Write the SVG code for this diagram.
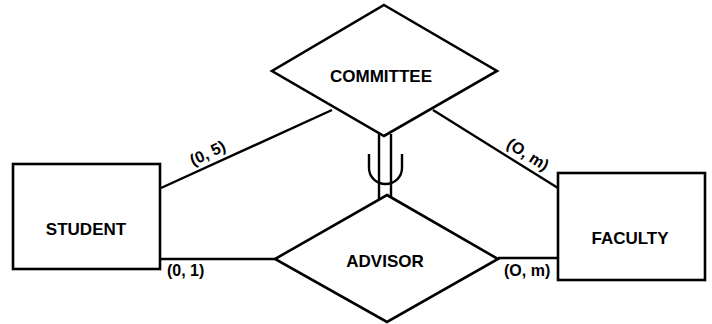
<svg xmlns="http://www.w3.org/2000/svg" width="712" height="324" viewBox="0 0 712 324">
  <style>
    .shape { fill: #fff; stroke: #000; stroke-width: 2.6; stroke-linejoin: miter; }
    .edge { fill: none; stroke: #000; stroke-width: 2.4; }
    .name { font-family: "Liberation Sans", Arial, sans-serif; font-weight: bold; font-size: 17px; text-anchor: middle; fill: #000; }
    .card { font-family: "Liberation Sans", Arial, sans-serif; font-weight: bold; font-size: 16px; fill: #000; }
  </style>
  <rect width="712" height="324" fill="#fff"/>

  <!-- relationships and the subset link between them -->
  <g id="connectors">
    <line class="edge" x1="161" y1="188" x2="332" y2="110"/>
    <line class="edge" x1="160" y1="259" x2="275" y2="259"/>
    <line class="edge" x1="433" y1="110" x2="558" y2="188"/>
    <line class="edge" x1="498" y1="258" x2="558" y2="258"/>
    <!-- double line COMMITTEE to ADVISOR -->
    <line class="edge" x1="379" y1="134" x2="379" y2="200"/>
    <line class="edge" x1="391" y1="134" x2="391" y2="200"/>
    <!-- subset symbol -->
    <path class="edge" d="M369,154 V168 A16.5,16 0 0 0 402,168 V154"/>
    <text class="card" transform="translate(210,158) rotate(-25)" text-anchor="middle">(0, 5)</text>
    <text class="card" x="167" y="276">(0, 1)</text>
    <text class="card" transform="translate(525,159) rotate(32)" text-anchor="middle">(O, m)</text>
    <text class="card" x="504" y="276">(O, m)</text>
  </g>

  <g id="committee">
    <polygon class="shape" points="384,5 497,71 384,136 272,71"/>
    <text class="name" x="381" y="82">COMMITTEE</text>
  </g>

  <g id="advisor">
    <polygon class="shape" points="387,195 498,259 387,322 275,259"/>
    <text class="name" x="385" y="267">ADVISOR</text>
  </g>

  <g id="student">
    <rect class="shape" x="13" y="164" width="147" height="105"/>
    <text class="name" x="86" y="235">STUDENT</text>
  </g>

  <g id="faculty">
    <rect class="shape" x="558" y="173" width="147" height="107"/>
    <text class="name" x="630" y="244">FACULTY</text>
  </g>
</svg>
